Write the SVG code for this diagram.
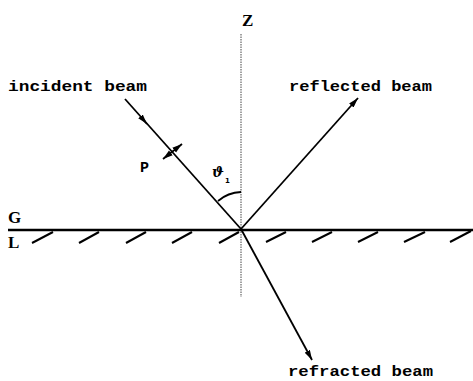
<svg xmlns="http://www.w3.org/2000/svg" width="473" height="381" viewBox="0 0 473 381">
<style>
.lbl{font-family:"Liberation Mono","DejaVu Sans Mono",monospace;font-weight:bold;font-size:15px;fill:#000}
.ser{font-family:"Liberation Serif","DejaVu Serif",serif;font-weight:bold;font-size:17px;fill:#000}
.beam{stroke:#000;stroke-width:1.8;fill:none}
.hatch{stroke:#000;stroke-width:2;fill:none}
</style>
<defs>
<marker id="ah" viewBox="0 0 10 6" refX="10" refY="3" markerWidth="10" markerHeight="6" markerUnits="userSpaceOnUse" orient="auto">
<path d="M0,0 L10,3 L0,6 z" fill="#000"/>
</marker>
<marker id="ahs" viewBox="0 0 10 6" refX="10" refY="3" markerWidth="10" markerHeight="7" markerUnits="userSpaceOnUse" orient="auto-start-reverse">
<path d="M0,0 L10,3 L0,6 z" fill="#000"/>
</marker>
</defs>
<g id="axis">
<line x1="241" y1="34" x2="241" y2="297" stroke="#444" stroke-width="1" stroke-dasharray="1.5,1"/>
<text class="ser" x="242" y="26">Z</text>
</g>
<g id="surface">
<line x1="8" y1="230" x2="473" y2="230" stroke="#000" stroke-width="2.6"/>
<g class="hatch">
<line x1="32" y1="243" x2="53" y2="232"/>
<line x1="79" y1="243" x2="99" y2="232"/>
<line x1="126" y1="243" x2="146" y2="232"/>
<line x1="172" y1="243" x2="192" y2="232"/>
<line x1="219" y1="243" x2="239" y2="232"/>
<line x1="266" y1="242" x2="286" y2="232"/>
<line x1="312" y1="242" x2="332" y2="232"/>
<line x1="358" y1="242" x2="378" y2="232"/>
<line x1="404" y1="242" x2="425" y2="232"/>
<line x1="450" y1="242" x2="471" y2="231"/>
</g>
<text class="ser" x="8" y="223">G</text>
<text class="ser" x="8" y="248">L</text>
</g>
<g id="connectors">
<line class="beam" x1="125" y1="99" x2="241" y2="229"/>
<path d="M141,117 L147,124" class="beam" marker-end="url(#ah)"/>
<line class="beam" x1="241" y1="229" x2="358" y2="98" marker-end="url(#ah)"/>
<line class="beam" x1="241" y1="229" x2="312" y2="360" marker-end="url(#ah)"/>
<line x1="163" y1="159" x2="182" y2="144" stroke="#000" stroke-width="1.8" marker-start="url(#ahs)" marker-end="url(#ahs)"/>
<path d="M218,201 A37,37 0 0 1 241,192" class="beam" stroke-width="1.5"/>
</g>
<g id="incident">
<text class="lbl" x="8" y="91" textLength="139" lengthAdjust="spacingAndGlyphs">incident beam</text>
</g>
<g id="reflected">
<text class="lbl" x="289" y="91" textLength="143" lengthAdjust="spacingAndGlyphs">reflected beam</text>
</g>
<g id="refracted">
<text class="lbl" x="288" y="376" font-size="14" textLength="145" lengthAdjust="spacingAndGlyphs">refracted beam</text>
</g>
<g id="polarization">
<text class="lbl" x="140" y="172" font-size="14">P</text>
</g>
<g id="angle">
<text x="212" y="177" font-family="DejaVu Serif, serif" font-style="italic" font-weight="bold" font-size="14" fill="#000">ϑ</text>
<text x="225" y="183" font-family="DejaVu Sans, sans-serif" font-weight="bold" font-size="7" fill="#000">1</text>
</g>
</svg>
